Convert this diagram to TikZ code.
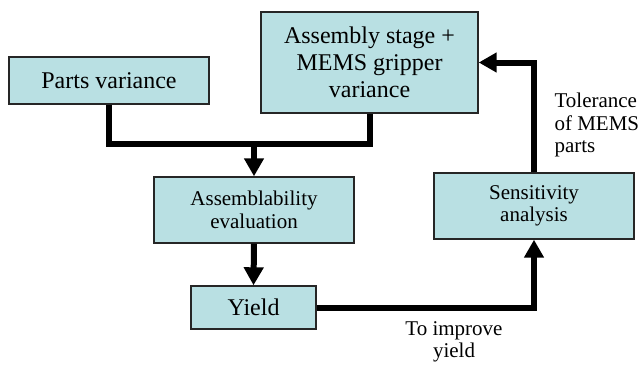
\documentclass[tikz,border=0pt]{standalone}
\usepackage{fontspec}
\setmainfont{LiberationSerif}[Extension=.ttf,UprightFont=*-Regular,BoldFont=*-Bold]
\usetikzlibrary{arrows.meta,calc}
\definecolor{boxfill}{RGB}{185,224,227}

\begin{document}
\begin{tikzpicture}[x=1pt,y=-1pt,
		blk/.style={draw=black!85,line width=1.4pt,fill=boxfill,align=center,inner sep=0pt},
		big/.style={font=\rmfamily\fontsize{24}{27}\selectfont},
		small/.style={font=\rmfamily\fontsize{21}{22.5}\selectfont},
		flow/.style={line width=6pt},
		tip/.style={-{Triangle[length=18pt,width=19pt]}}]
	\useasboundingbox (0,0) rectangle (642,364);
	
	% Boxes
	\node[blk,big,minimum width=200,minimum height=47] (parts) at (109,80.5) {Parts variance};
	\node[blk,big,minimum width=217,minimum height=101] (stage) at (369.5,62.5) {Assembly stage +\\MEMS gripper\\variance};
	\node[blk,small,minimum width=200,minimum height=66] (eval) at (254,210) {Assemblability\\evaluation};
	\node[blk,big,minimum width=125,minimum height=43] (yield) at (253.5,307.5) {Yield};
	\node[blk,small,minimum width=200,minimum height=66] (sens) at (534,206) {Sensitivity\\analysis};
	
	% Merge of the two variances
	\coordinate (merge) at ($(eval.north)+(0,-32)$);
	\draw[flow] (parts.south) |- (merge) -| (stage.south);
	\draw[flow,tip] (merge) -- (eval.north);
	\draw[flow,tip] (eval.south) -- (yield.north);
	
	% Feedback loop
	\draw[flow,tip] (yield.east) -| (sens.south);
	\draw[flow,tip] (sens.north) |- (stage.east);
	
	% Labels
	\node[small,align=center] (improve) at (454,342) {To improve\\yield};
	\node[small,align=left,anchor=west] (tol) at (551,125) {Tolerance\\of MEMS\\parts};
\end{tikzpicture}
\end{document}
